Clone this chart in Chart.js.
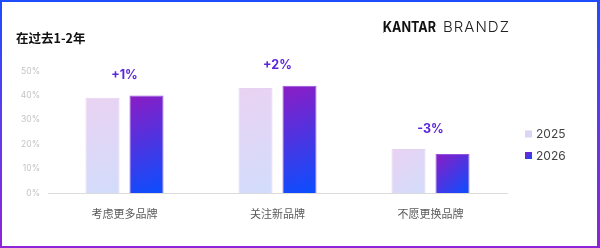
<!DOCTYPE html>
<html>
<head>
<meta charset="utf-8">
<script src="https://cdn.jsdelivr.net/npm/chart.js@4.4.1/dist/chart.umd.min.js"></script>
<style>
  html, body { margin: 0; padding: 0; background: #fff; }
  #frame {
    position: relative; width: 600px; height: 248px; box-sizing: border-box;
    background: linear-gradient(to bottom, #1d4cff 0%, #5a3cf0 45%, #8e24d8 100%);
  }
  #inner { position: absolute; left: 2px; top: 2px; right: 3px; bottom: 2px; background: #fff; }
  #chart { position: absolute; left: 0; top: 0; }
</style>
</head>
<body>
<div id="frame">
  <div id="inner"></div>
  <canvas id="chart" width="600" height="248"></canvas>
</div>
<script>
// 데이터
const categories = ['考虑更多品牌', '关注新品牌', '不愿更换品牌'];
const seriesNames = ['2025', '2026'];
const values2025 = [39, 43, 18];
const values2026 = [40, 44, 16];
const changes = ['+1%', '+2%', '-3%'];
const yTicks = [0, 10, 20, 30, 40, 50];

const cjk = '"Noto Sans CJK SC", "Noto Sans", sans-serif';

// 막대 그라데이션 (막대마다 대각선)
function barFill(colors, side) {
    return (ctx) => {
        const chart = ctx.chart;
        const xs = chart.scales.x, ys = chart.scales.y;
        if (!xs || !ys || ctx.type !== 'data') return colors[0];
        const cx = xs.getPixelForValue(ctx.dataIndex) + side * 22;
        const top = ys.getPixelForValue(ctx.raw);
        const base = ys.getPixelForValue(0);
        if (![cx, top, base].every(Number.isFinite)) return colors[0];
        const g = chart.ctx.createLinearGradient(cx - 17, top, cx + 17, base);
        g.addColorStop(0, colors[0]);
        g.addColorStop(1, colors[1]);
        return g;
    };
}

const lightColors = ['#ead2f2', '#d2dcfb'];
const darkColors = ['#8c1cc4', '#0a4eff'];

// 제목, 로고, 증감 라벨, 범례
const decor = {
    id: 'decor',
    afterDraw(chart) {
        const c = chart.ctx;
        c.save();
        c.textBaseline = 'middle';
        c.fillStyle = '#111';
        c.font = 'bold 12.5px ' + cjk;
        c.textAlign = 'left';
        c.fillText('在过去1-2年', 16, 38);

        // 로고
        c.font = 'bold 15px Inter, "Noto Sans", sans-serif';
        c.fillStyle = '#111';
        c.fillText('KANTAR', 383, 27, 53);
        c.fillStyle = '#c9a227';
        c.fillRect(383, 22, 1, 11);
        c.font = '300 15px Inter, "Noto Sans", sans-serif';
        c.fillStyle = '#222';
        const w0 = c.measureText('BRANDZ').width;
        c.letterSpacing = Math.max(0, (66 - w0) / 5) + 'px';
        c.fillText('BRANDZ', 443, 27);
        c.letterSpacing = '0px';

        const xs = chart.scales.x, ys = chart.scales.y;
        c.font = 'bold 12.5px Inter, "Noto Sans", sans-serif';
        c.textAlign = 'center';
        c.fillStyle = '#5b25d8';
        changes.forEach((t, i) => {
            const hi = Math.max(values2025[i], values2026[i]);
            c.fillText(t, xs.getPixelForValue(i), ys.getPixelForValue(hi) - 20);
        });

        c.textAlign = 'left';
        c.font = '12px Inter, "Noto Sans", sans-serif';
        chart.data.datasets.forEach((ds, i) => {
            const y = 134 + i * 21.5;
            const g = c.createLinearGradient(525, y - 3.5, 532, y + 3.5);
            const cols = i === 0 ? ['#e3d0f3', '#d6d8f8'] : darkColors;
            g.addColorStop(0, cols[0]);
            g.addColorStop(1, cols[1]);
            c.fillStyle = g;
            c.fillRect(525, y - 3.5, 7, 7);
            c.fillStyle = '#444';
            c.fillText(ds.label, 536, y + 0.5);
        });
        c.restore();
    }
};

new Chart(document.getElementById('chart'), {
    type: 'bar',
    data: {
        labels: categories,
        datasets: [{
                label: seriesNames[0],
                data: values2025,
                backgroundColor: barFill(lightColors, -1),
                borderColor: 'rgba(225,205,240,0.9)',
                borderWidth: 1,
                categoryPercentage: 0.575,
                barPercentage: 0.773
            },
            {
                label: seriesNames[1],
                data: values2026,
                backgroundColor: barFill(darkColors, 1),
                borderColor: 'rgba(120,40,210,0.8)',
                borderWidth: 1,
                categoryPercentage: 0.575,
                barPercentage: 0.773
            }
        ]
    },
    options: {
        responsive: false,
        animation: false,
        events: [],
        layout: { padding: { top: 71, right: 93, bottom: 0, left: 0 } },
        plugins: { legend: { display: false }, tooltip: { enabled: false } },
        scales: {
            x: {
                grid: { display: false, drawTicks: false },
                border: { display: true, color: '#dcdcdc', width: 1 },
                ticks: { color: '#5a5a5a', padding: 14, font: { family: cjk, size: 11 } },
                afterFit(s) { s.height = 55; }
            },
            y: {
                min: 0,
                max: 50,
                afterBuildTicks(s) { s.ticks = yTicks.map(v => ({ value: v })); },
                grid: { display: false, drawTicks: false },
                border: { display: false },
                ticks: {
                    color: '#c4c4c4',
                    padding: 8,
                    font: { family: 'Inter, "Noto Sans", sans-serif', size: 8.5 },
                    callback: v => v + '%'
                },
                afterFit(s) { s.width = 48; }
            }
        }
    },
    plugins: [decor]
});
</script>
</body>
</html>
